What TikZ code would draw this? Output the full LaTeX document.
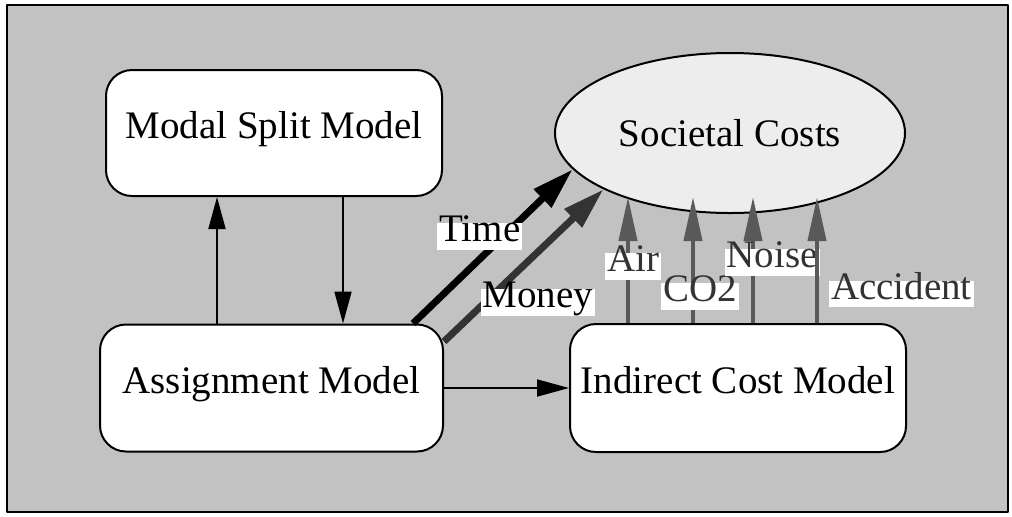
\documentclass[tikz,border=0pt]{standalone}
\usepackage{fontspec}
\setmainfont{Liberation Serif}
\usetikzlibrary{shapes.geometric,arrows.meta}
\begin{document}
\begin{tikzpicture}[x=.5pt,y=-.5pt,font=\fontsize{19.5}{23}\selectfont,line join=round,
	model/.style={draw,line width=1pt,fill=white,rounded corners=13pt,text height=.7em,text depth=.2em},
	lbl/.style={fill=white,inner xsep=1pt,inner ysep=2pt,text height=.72em,text depth=.22em},
	flow/.style={line width=.9pt,-{Triangle[length=16pt,width=8.5pt]}},
	cost/.style={line width=3.5pt,-{Triangle[length=21pt,width=12pt]}},
	impact/.style={draw=black!65,line width=2pt,-{Triangle[length=22pt,width=9pt]}}]
		\useasboundingbox (0,0) rectangle (1012,516);
		\draw[line width=1pt,fill=black!24] (7,5) rectangle (1008,512);
		\node[model,minimum width=168pt,minimum height=63pt] (msm) at (274,133) {Modal Split Model};
		\node[model,minimum width=171.5pt,minimum height=63.5pt] (am) at (271.5,388) {Assignment Model};
		\node[model,minimum width=168pt,minimum height=64pt] (icm) at (738,388) {Indirect Cost Model};
		\node[ellipse,draw,line width=1pt,fill=black!7,minimum width=175pt,minimum height=80pt,inner sep=0pt] (sc) at (730,133) {Societal Costs};
		\draw[flow] ([xshift=-27.25pt]am.north) -- ([xshift=-28.5pt]msm.south);
		\draw[flow] ([xshift=34.5pt]msm.south) -- ([xshift=35.75pt]am.north);
		\draw[flow] (am.east) -- (icm.west);
		\draw[cost] ([xshift=-15.5pt]am.north east) -- (sc.193) node[lbl,pos=.4,xshift=1.5pt,yshift=12.5pt]{Time};
		\draw[cost,draw=black!80] ([yshift=-9pt]am.north east) -- (sc.204) node[lbl,pos=.4,xshift=15pt,yshift=-11pt]{Money};
		\draw[impact] ([xshift=-55pt]icm.north) -- ++(0,-126) node[lbl,text=black!80,pos=.45,xshift=2.5pt]{Air};
		\draw[impact] ([xshift=-22.5pt]icm.north) -- ++(0,-126) node[lbl,text=black!80,pos=.21,xshift=3.5pt]{CO2};
		\draw[impact] ([xshift=7.5pt]icm.north) -- ++(0,-126) node[lbl,text=black!80,pos=.48,xshift=9.5pt]{Noise};
		\draw[impact] ([xshift=39.5pt]icm.north) -- ++(0,-126) node[lbl,text=black!80,pos=.23,anchor=west,xshift=5pt]{Accident};
		\end{tikzpicture}
\end{document}
